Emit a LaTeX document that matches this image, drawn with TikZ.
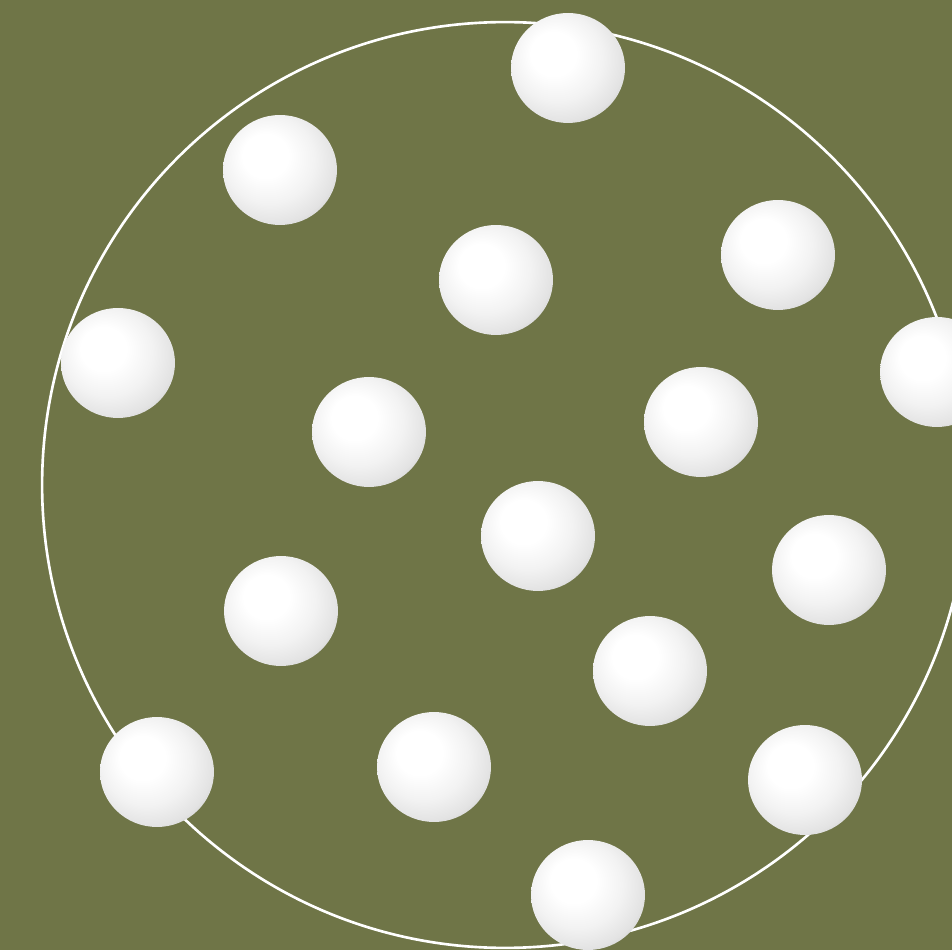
\documentclass[tikz,border=0pt]{standalone}
\usetikzlibrary{shapes.geometric}
\definecolor{olive}{RGB}{111,117,71}
\pgfdeclareradialshading{pearl}{\pgfqpoint{-8bp}{8bp}}{color(0bp)=(white); color(10bp)=(white); color(20bp)=(black!5); color(28bp)=(black!11); color(34bp)=(black!22); color(50bp)=(black!30)}
\begin{document}
\begin{tikzpicture}[x=0.02cm,y=0.02cm,ball/.style={ellipse,shading=pearl,minimum width=2.28cm,minimum height=2.2cm,inner sep=0pt}]
\fill[olive] (0,0) rectangle (952,950);
\useasboundingbox (0,0) rectangle (952,950);
\coordinate (o) at (505,465);
\draw[white,line width=1.5pt] (o) circle (9.26cm);
\node[ball] (b1) at (568,882) {};
\node[ball] (b2) at (280,780) {};
\node[ball] (b3) at (496,670) {};
\node[ball] (b4) at (778,695) {};
\node[ball] (b5) at (118,587) {};
\node[ball] (b6) at (369,518) {};
\node[ball] (b7) at (701,528) {};
\node[ball] (b8) at (937,578) {};
\node[ball] (b9) at (538,414) {};
\node[ball] (b10) at (829,380) {};
\node[ball] (b11) at (281,339) {};
\node[ball] (b12) at (650,279) {};
\node[ball] (b13) at (157,178) {};
\node[ball] (b14) at (434,183) {};
\node[ball] (b15) at (805,170) {};
\node[ball] (b16) at (588,55) {};
\end{tikzpicture}
\end{document}
